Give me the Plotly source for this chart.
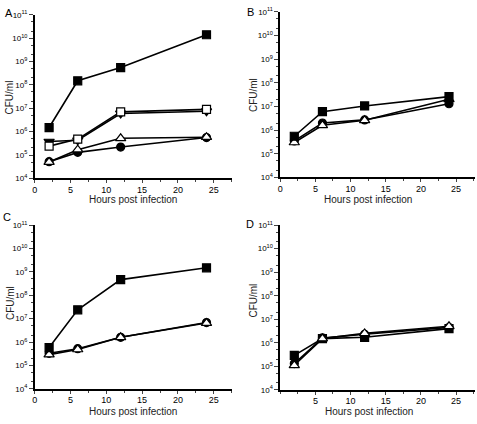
import plotly.graph_objects as go

hours = [2, 6, 12, 24]

# Panel A
a_fsq = [1.5e6, 1.5e8, 5.5e8, 1.4e10]
a_osq = [2.4e5, 4.8e5, 7.0e6, 9.0e6]
a_dtri = [3.8e5, 4.3e5, 6.0e6, 7.5e6]
a_otri = [5.0e4, 1.7e5, 5.2e5, 5.8e5]
a_circ = [5.2e4, 1.3e5, 2.2e5, 5.6e5]

# Panel B
b_fsq = [5.5e5, 6.0e6, 1.05e7, 2.6e7]
b_otri = [3.0e5, 1.6e6, 2.6e6, 2.0e7]
b_circ = [3.5e5, 2.0e6, 2.7e6, 1.3e7]

# Panel C
c_fsq = [5.8e5, 2.4e7, 4.7e8, 1.5e9]
c_otri = [2.9e5, 4.8e5, 1.6e6, 6.5e6]
c_circ = [3.3e5, 5.2e5, 1.6e6, 6.8e6]

# Panel D
d_fsq = [2.9e5, 1.5e6, 1.7e6, 4.0e6]
d_otri = [1.1e5, 1.5e6, 2.5e6, 5.0e6]
d_circ = [1.3e5, 1.6e6, 2.3e6, 4.5e6]

ytickvals = [1e4, 1e5, 1e6, 1e7, 1e8, 1e9, 1e10, 1e11]
yticktext = ["10<sup>4</sup>", "10<sup>5</sup>", "10<sup>6</sup>", "10<sup>7</sup>",
             "10<sup>8</sup>", "10<sup>9</sup>", "10<sup>10</sup>", "10<sup>11</sup>"]
xtickvals_full = [0, 5, 10, 15, 20, 25]
xtickvals_d = [5, 10, 15, 20, 25]

W, H = 477, 424
FONT = "Liberation Sans"

fig = go.Figure()

def px(x):
    return x / W

def py(y):
    return 1 - y / H

SIZES = {"circle": 8, "square": 8, "triangle-up": 9, "triangle-down": 9}

def add_series(idx, ys, symbol, fill):
    xa = "x" if idx == 1 else f"x{idx}"
    ya = "y" if idx == 1 else f"y{idx}"
    fig.add_trace(go.Scatter(
        x=hours, y=ys, mode="lines+markers", xaxis=xa, yaxis=ya,
        line=dict(color="black", width=1.6),
        marker=dict(symbol=symbol, size=SIZES[symbol],
                    color=fill, line=dict(color="black", width=1.2)),
        showlegend=False, cliponaxis=False))

# A
add_series(1, a_circ, "circle", "black")
add_series(1, a_otri, "triangle-up", "white")
add_series(1, a_dtri, "triangle-down", "black")
add_series(1, a_osq, "square", "white")
add_series(1, a_fsq, "square", "black")
# B
add_series(2, b_circ, "circle", "black")
add_series(2, b_otri, "triangle-up", "white")
add_series(2, b_fsq, "square", "black")
# C
add_series(3, c_circ, "circle", "black")
add_series(3, c_otri, "triangle-up", "white")
add_series(3, c_fsq, "square", "black")
# D
add_series(4, d_circ, "circle", "black")
add_series(4, d_fsq, "square", "black")
add_series(4, d_otri, "triangle-up", "white")

panels = {
    1: dict(x0=32, x1=230, xr=[0, 27.5], y0=9, y1=177, xt=xtickvals_full),
    2: dict(x0=279, x1=475, xr=[0, 27.7], y0=6, y1=176, xt=xtickvals_full),
    3: dict(x0=32, x1=230, xr=[0, 27.5], y0=225, y1=393, xt=xtickvals_full),
    4: dict(x0=279, x1=475, xr=[0, 27.7], y0=225, y1=394, xt=xtickvals_d),
}

layout = dict(
    width=W, height=H, margin=dict(l=0, r=0, t=0, b=0),
    paper_bgcolor="white", plot_bgcolor="white",
    font=dict(family=FONT, color="black", size=9),
)
for i, p in panels.items():
    xk = "xaxis" if i == 1 else f"xaxis{i}"
    yk = "yaxis" if i == 1 else f"yaxis{i}"
    ya = "y" if i == 1 else f"y{i}"
    xa = "x" if i == 1 else f"x{i}"
    layout[xk] = dict(
        domain=[px(p["x0"]), px(p["x1"])], range=p["xr"], anchor=ya,
        tickmode="array", tickvals=p["xt"], ticks="outside", ticklen=3, tickwidth=1.2,
        showline=True, linecolor="black", linewidth=1.6, showgrid=False, zeroline=False,
        tickfont=dict(size=9, family=FONT, color="black"), ticklabelstandoff=-1,
        minor=dict(tickmode="array", tickvals=[2.5, 7.5, 12.5, 17.5, 22.5, 27.5] if i != 4 else [0, 2.5, 7.5, 12.5, 17.5, 22.5, 27.5],
                   ticks="outside", ticklen=2, tickwidth=1, showgrid=False),
    )
    layout[yk] = dict(
        domain=[py(p["y1"]), py(p["y0"])], type="log", range=[4, 11], anchor=xa,
        tickmode="array", tickvals=ytickvals, ticktext=yticktext,
        ticks="outside", ticklen=4, tickwidth=1.2,
        showline=True, linecolor="black", linewidth=1.6, showgrid=False, zeroline=False,
        tickfont=dict(size=8, family=FONT, color="black"),
        minor=dict(ticks="outside", ticklen=2, tickwidth=0.8, showgrid=False),
    )
fig.update_layout(**layout)

annots = []
# panel letters
for txt, x, y in [("A", 6, 7), ("B", 249, 6), ("C", 4, 217), ("D", 249, 224)]:
    annots.append(dict(text=txt, x=px(x), y=py(y), xref="paper", yref="paper",
                       xanchor="center", yanchor="middle",
                       showarrow=False, font=dict(size=11, family=FONT, color="black")))
# axis titles
for x, y in [(131, 199), (367, 199), (131, 416), (368, 416)]:
    annots.append(dict(text="Hours post infection", x=px(x), y=py(y), xref="paper", yref="paper",
                       xanchor="center", yanchor="middle",
                       showarrow=False, font=dict(size=10, family=FONT, color="#222")))
for x, y in [(7, 94), (252, 91), (7, 305), (252, 302)]:
    annots.append(dict(text="CFU/ml", x=px(x), y=py(y), xref="paper", yref="paper",
                       xanchor="center", yanchor="middle",
                       textangle=-90, showarrow=False, font=dict(size=10, family=FONT, color="#222")))
fig.update_layout(annotations=annots)

fig.write_html("out.html", config={"displayModeBar": False},
               post_script="document.body.style.margin='0px';document.body.style.padding='0px';")
